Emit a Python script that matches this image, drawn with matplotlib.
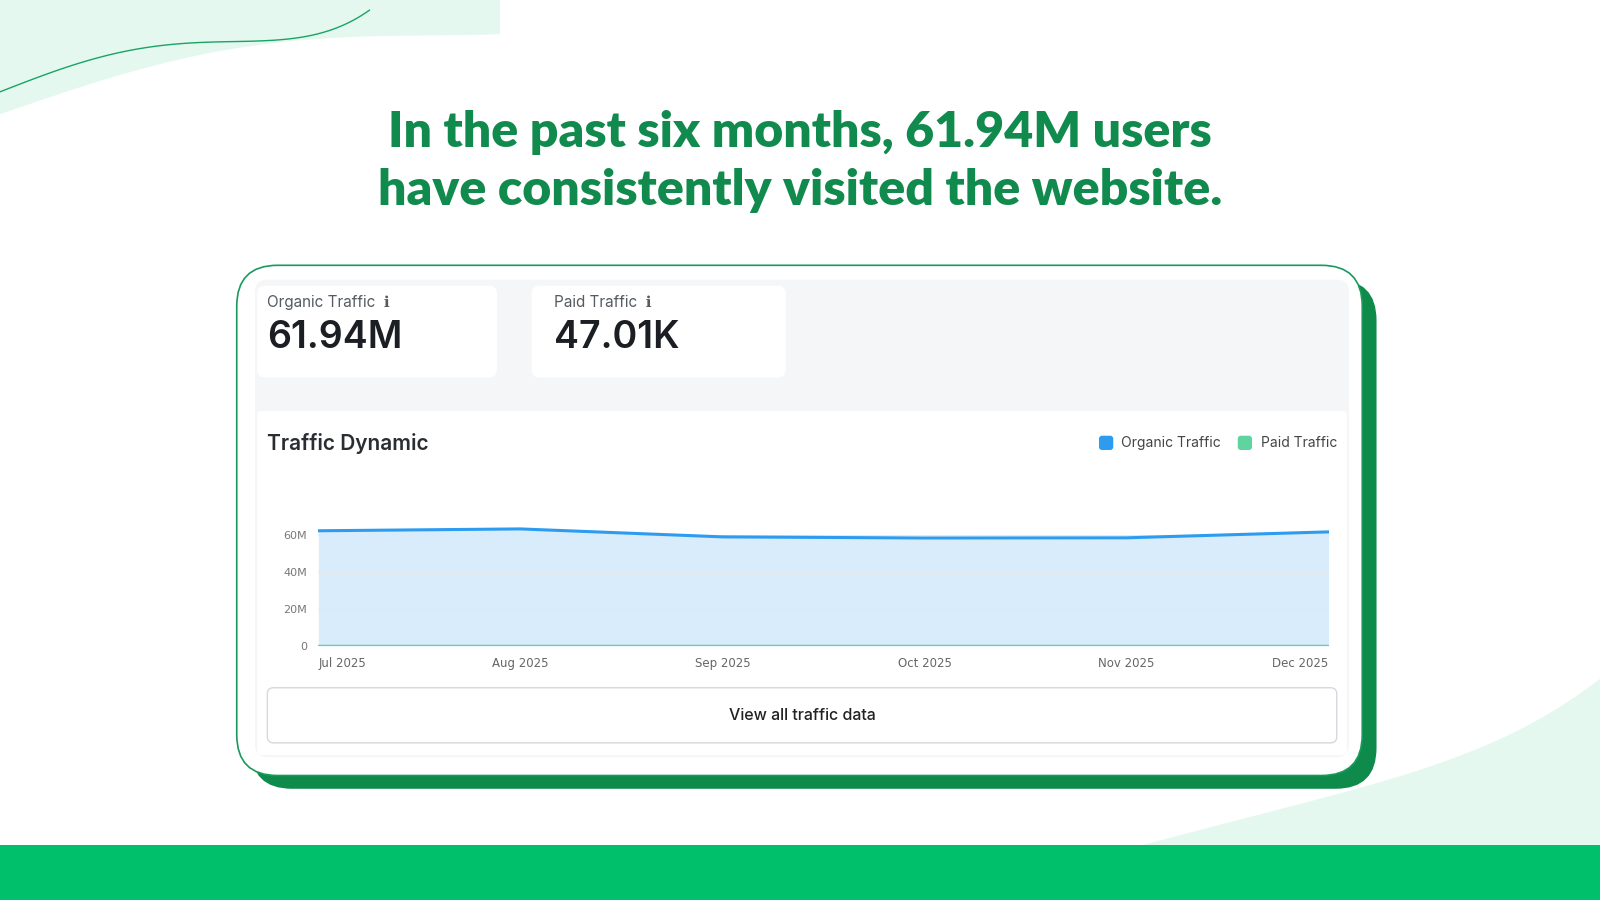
import matplotlib
matplotlib.use("Agg")
import matplotlib.pyplot as plt
from matplotlib.patches import FancyBboxPatch, Rectangle, Polygon
import numpy as np

months = ["Jul 2025", "Aug 2025", "Sep 2025", "Oct 2025", "Nov 2025", "Dec 2025"]
organic = [62.2, 63.2, 58.9, 58.3, 58.4, 61.6]  # millions
paid = [0.047, 0.047, 0.047, 0.047, 0.047, 0.047]
yticks = [0, 20, 40, 60]
ytick_labels = ["0", "20M", "40M", "60M"]

W, H = 1568, 882
fig = plt.figure(figsize=(16, 9), dpi=100)
bg = fig.add_axes([0, 0, 1, 1])
bg.set_xlim(0, W); bg.set_ylim(H, 0); bg.axis("off")

mint = "#e4f8ef"
tt = np.linspace(0, 1, 80)
cx = 490 * tt
cy = 112 - 60 * np.sin(tt * np.pi * 0.9) - 60 * tt**3
bg.add_patch(Polygon(np.c_[np.r_[0, cx, 490], np.r_[0, cy, 0]], closed=True, color=mint, lw=0))
xs = np.linspace(0, 362, 100)
ys = 90 - 45 * np.sin(xs / 362 * np.pi) - 80 * (xs / 362) ** 5
bg.plot(xs, ys, color="#19a463", lw=1)
ang = np.linspace(0, 1, 80)
px = 1120 + 480 * ang
py = 828 - 40 * np.sin(ang * np.pi) - 190 * ang**3
bg.add_patch(Polygon(np.c_[np.r_[px, 1568], np.r_[py, 828]], closed=True, color=mint, lw=0))
bg.add_patch(Rectangle((0, 828), W, 60, color="#00c06b", lw=0))

for yy, s in [(130, "In the past six months, 61.94M users"), (187, "have consistently visited the website.")]:
    bg.text(784, yy, s, ha="center", va="center", fontsize=36, fontweight="heavy",
            family="Lato", color="#118a4e")

def rbox(x0, y0, x1, y1, r, fc, ec="none", lw=0, z=1):
    bg.add_patch(FancyBboxPatch((x0, y0), x1 - x0, y1 - y0, boxstyle=f"round,pad=0,rounding_size={r}",
                                fc=fc, ec=ec, lw=lw, zorder=z))

fam = ["Inter", "DejaVu Sans"]
rbox(246, 274, 1349, 773, 40, "#0e8a4a", z=1)
rbox(232, 260, 1335, 760, 40, "white", ec="#1a9a5a", lw=1.2, z=2)
rbox(250, 274, 1322, 742, 12, "#f4f6f8", z=3)
rbox(252, 280, 487, 370, 8, "white", z=4)
rbox(521, 280, 770, 370, 8, "white", z=4)
rbox(252, 403, 1320, 740, 4, "white", z=4)
rbox(262, 674, 1310, 728, 6, "white", ec="#d5d8dc", lw=1, z=5)

bg.text(262, 296, "Organic Traffic  ℹ", fontsize=11, color="#555b63", va="center", zorder=6, family=fam)
bg.text(262, 331, "61.94M", fontsize=27, color="#1b1f24", va="center", zorder=6, family=fam, fontweight="semibold")
bg.text(543, 296, "Paid Traffic  ℹ", fontsize=11, color="#555b63", va="center", zorder=6, family=fam)
bg.text(543, 331, "47.01K", fontsize=27, color="#1b1f24", va="center", zorder=6, family=fam, fontweight="semibold")
bg.text(262, 435, "Traffic Dynamic", fontsize=15, color="#2a2e33", va="center", zorder=6, family=fam, fontweight="semibold")
rbox(1077, 427, 1091, 441, 3, "#2d9cf0", z=6)
bg.text(1099, 434, "Organic Traffic", fontsize=10, color="#444", va="center", zorder=6, family=fam)
rbox(1213, 427, 1227, 441, 3, "#5fd3a0", z=6)
bg.text(1236, 434, "Paid Traffic", fontsize=10, color="#444", va="center", zorder=6, family=fam)
bg.text(786, 701, "View all traffic data", fontsize=11.5, color="#222", ha="center", va="center", zorder=6, family=fam, fontweight="medium")

ax = fig.add_axes([312 / W, (H - 633) / H, 990 / W, (633 - 506) / H], zorder=10)
ax.patch.set_alpha(0)
x = np.arange(len(months))
ax.fill_between(x, organic, color="#d8ecfb", lw=0)
ax.plot(x, organic, color="#2d9cf0", lw=2.2)
ax.plot(x, paid, color="#5fd3a0", lw=2.5)
ax.set_xlim(0, 5); ax.set_ylim(0, 70)
ax.set_yticks(yticks); ax.set_yticklabels(ytick_labels, fontsize=8, color="#777")
ax.set_xticks(x); ax.set_xticklabels(months, fontsize=8.5, color="#666")
labs = ax.get_xticklabels()
labs[0].set_ha("left"); labs[-1].set_ha("right")
ax.tick_params(length=0, pad=8)
ax.grid(axis="y", color="#e6e8ea", lw=0.8)
for s in ax.spines.values(): s.set_visible(False)

fig.savefig("out.png", dpi=100)
